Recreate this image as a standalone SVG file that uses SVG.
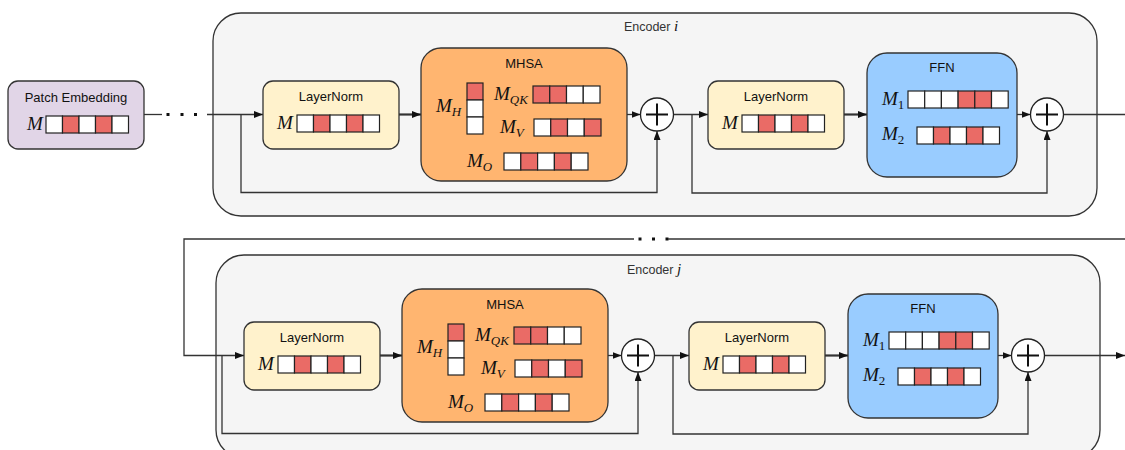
<svg xmlns="http://www.w3.org/2000/svg" width="1125" height="450" viewBox="0 0 1125 450">
<style>
.enc{fill:#F5F5F5;stroke:#333;stroke-width:1.3}
.box{stroke:#333;stroke-width:1.3}
.pe{fill:#E1D5E7}.ln{fill:#FFF2CC}.mh{fill:#FFB570}.ff{fill:#99CCFF}
.w{fill:#fff;stroke:#222;stroke-width:1.2}
.r{fill:#EA6B66;stroke:#222;stroke-width:1.2}
.t{font-family:"Liberation Sans",Arial,sans-serif;font-size:13px;fill:#111;text-anchor:middle}
.et{font-family:"Liberation Sans",Arial,sans-serif;font-size:12.5px;fill:#333;text-anchor:middle}
.m{font-family:"Liberation Serif","Times New Roman",serif;font-style:italic;font-size:19px;fill:#111}
.sub{font-size:13px}
.up{font-style:normal}
.c{fill:none;stroke:#333;stroke-width:1.3}
.th{stroke-width:2.2}
.sum{fill:#fff;stroke:#222;stroke-width:1.3}
.plus{stroke:#111;stroke-width:2;fill:none}
.dot{fill:#111}
</style>
<defs>
<marker id="ah" markerUnits="userSpaceOnUse" markerWidth="10" markerHeight="8" refX="9" refY="3.5" orient="auto">
<path d="M0,0 L9,3.5 L0,7 z" fill="#111"/>
</marker>
</defs>

<!-- Encoder containers -->
<g id="encoder-i">
<rect class="enc" x="213" y="13" width="884" height="203" rx="28"/>
<text class="et" x="651" y="31">Encoder <tspan class="m" style="font-size:15px">i</tspan></text>
</g>
<g id="encoder-j">
<rect class="enc" x="216" y="255" width="884" height="203" rx="28"/>
<text class="et" x="654" y="274">Encoder <tspan class="m" style="font-size:15px">j</tspan></text>
</g>

<!-- Connectors -->
<g id="connectors">
<path class="c" d="M144 114.5 H162"/>
<rect class="dot" x="166.5" y="113" width="3" height="3"/>
<rect class="dot" x="180.5" y="113" width="3" height="3"/>
<rect class="dot" x="194" y="113" width="3" height="3"/>
<path class="c" d="M207 114.5 H263" marker-end="url(#ah)"/>
<path class="c" d="M241 114.5 V192.5 H657 V131" marker-end="url(#ah)"/>
<path class="c th" d="M399 114.5 H421" marker-end="url(#ah)"/>
<path class="c" d="M627 114.5 H640.5" marker-end="url(#ah)"/>
<path class="c" d="M673.5 114.5 H708" marker-end="url(#ah)"/>
<path class="c" d="M692 114.5 V193 H1047 V131" marker-end="url(#ah)"/>
<path class="c th" d="M844 114.5 H867" marker-end="url(#ah)"/>
<path class="c" d="M1017 114.5 H1030.5" marker-end="url(#ah)"/>
<path class="c" d="M1063.5 114.5 H1125"/>

<path class="c" d="M634 239 H184 V355.5 H244" marker-end="url(#ah)"/>
<rect class="dot" x="638.5" y="237.5" width="3" height="3"/>
<rect class="dot" x="652" y="237.5" width="3" height="3"/>
<rect class="dot" x="665.5" y="237.5" width="3" height="3"/>
<path class="c" d="M668 239 H1125"/>

<path class="c" d="M222 355.5 V433.5 H638 V372" marker-end="url(#ah)"/>
<path class="c th" d="M380 355.5 H402" marker-end="url(#ah)"/>
<path class="c" d="M608 355.5 H621.5" marker-end="url(#ah)"/>
<path class="c" d="M654.5 355.5 H689" marker-end="url(#ah)"/>
<path class="c" d="M673 355.5 V434 H1028 V372" marker-end="url(#ah)"/>
<path class="c th" d="M825 355.5 H848" marker-end="url(#ah)"/>
<path class="c" d="M998 355.5 H1011.5" marker-end="url(#ah)"/>
<path class="c" d="M1044.5 355.5 H1125" marker-end="url(#ah)"/>
</g>

<!-- Patch Embedding -->
<g id="patch-embedding" transform="translate(8,81)">
<rect class="box pe" x="0" y="0" width="136" height="68" rx="10"/>
<text class="t" x="68" y="21">Patch Embedding</text>
<text class="m" x="19" y="49">M</text>
<rect class="w" x="38" y="35" width="16.5" height="17"/>
<rect class="r" x="54.5" y="35" width="16.5" height="17"/>
<rect class="w" x="71" y="35" width="16.5" height="17"/>
<rect class="r" x="87.5" y="35" width="16.5" height="17"/>
<rect class="w" x="104" y="35" width="16.5" height="17"/>
</g>

<!-- Encoder i nodes -->
<g id="i-layernorm1" transform="translate(263,81)">
<rect class="box ln" x="0" y="0" width="136" height="68" rx="10"/>
<text class="t" x="68" y="20">LayerNorm</text>
<text class="m" x="14" y="48">M</text>
<rect class="w" x="34" y="34" width="16.5" height="17"/>
<rect class="r" x="50.5" y="34" width="16.5" height="17"/>
<rect class="w" x="67" y="34" width="16.5" height="17"/>
<rect class="r" x="83.5" y="34" width="16.5" height="17"/>
<rect class="w" x="100" y="34" width="16.5" height="17"/>
</g>

<g id="i-mhsa" transform="translate(421,48)">
<rect class="box mh" x="0" y="0" width="206" height="133" rx="20"/>
<text class="t" x="103" y="20">MHSA</text>
<text class="m" x="15" y="64">M<tspan class="sub" dy="4">H</tspan></text>
<rect class="r" x="46" y="35" width="16" height="17"/>
<rect class="w" x="46" y="52" width="16" height="17"/>
<rect class="w" x="46" y="69" width="16" height="17"/>
<text class="m" x="73" y="52">M<tspan class="sub" dy="4">QK</tspan></text>
<rect class="r" x="112" y="38" width="16.75" height="17"/>
<rect class="r" x="128.75" y="38" width="16.75" height="17"/>
<rect class="w" x="145.5" y="38" width="16.75" height="17"/>
<rect class="w" x="162.25" y="38" width="16.75" height="17"/>
<text class="m" x="79" y="85">M<tspan class="sub" dy="4">V</tspan></text>
<rect class="w" x="113" y="71" width="16.75" height="17"/>
<rect class="r" x="129.75" y="71" width="16.75" height="17"/>
<rect class="w" x="146.5" y="71" width="16.75" height="17"/>
<rect class="r" x="163.25" y="71" width="16.75" height="17"/>
<text class="m" x="46" y="119">M<tspan class="sub" dy="4">O</tspan></text>
<rect class="w" x="83" y="105" width="16.8" height="17"/>
<rect class="r" x="99.8" y="105" width="16.8" height="17"/>
<rect class="w" x="116.6" y="105" width="16.8" height="17"/>
<rect class="r" x="133.4" y="105" width="16.8" height="17"/>
<rect class="w" x="150.2" y="105" width="16.8" height="17"/>
</g>

<g id="i-add1" transform="translate(657,114.5)">
<circle class="sum" r="16.5"/>
<path class="plus" d="M-11 0 H11 M0 -11 V11"/>
</g>

<g id="i-layernorm2" transform="translate(708,81)">
<rect class="box ln" x="0" y="0" width="136" height="68" rx="10"/>
<text class="t" x="68" y="20">LayerNorm</text>
<text class="m" x="14" y="48">M</text>
<rect class="w" x="34" y="34" width="16.5" height="17"/>
<rect class="r" x="50.5" y="34" width="16.5" height="17"/>
<rect class="w" x="67" y="34" width="16.5" height="17"/>
<rect class="r" x="83.5" y="34" width="16.5" height="17"/>
<rect class="w" x="100" y="34" width="16.5" height="17"/>
</g>

<g id="i-ffn" transform="translate(867,53)">
<rect class="box ff" x="0" y="0" width="150" height="124" rx="20"/>
<text class="t" x="75" y="19">FFN</text>
<text class="m" x="15" y="52">M<tspan class="sub up" dy="4">1</tspan></text>
<rect class="w" x="41" y="38" width="16.7" height="17"/>
<rect class="w" x="57.7" y="38" width="16.7" height="17"/>
<rect class="w" x="74.4" y="38" width="16.7" height="17"/>
<rect class="r" x="91.1" y="38" width="16.7" height="17"/>
<rect class="r" x="107.8" y="38" width="16.7" height="17"/>
<rect class="w" x="124.5" y="38" width="16.7" height="17"/>
<text class="m" x="15" y="87">M<tspan class="sub up" dy="4">2</tspan></text>
<rect class="w" x="50" y="74" width="16.5" height="17"/>
<rect class="r" x="66.5" y="74" width="16.5" height="17"/>
<rect class="w" x="83" y="74" width="16.5" height="17"/>
<rect class="r" x="99.5" y="74" width="16.5" height="17"/>
<rect class="w" x="116" y="74" width="16.5" height="17"/>
</g>

<g id="i-add2" transform="translate(1047,114.5)">
<circle class="sum" r="16.5"/>
<path class="plus" d="M-11 0 H11 M0 -11 V11"/>
</g>

<!-- Encoder j nodes -->
<g id="j-layernorm1" transform="translate(244,322)">
<rect class="box ln" x="0" y="0" width="136" height="68" rx="10"/>
<text class="t" x="68" y="20">LayerNorm</text>
<text class="m" x="14" y="48">M</text>
<rect class="w" x="34" y="34" width="16.5" height="17"/>
<rect class="r" x="50.5" y="34" width="16.5" height="17"/>
<rect class="w" x="67" y="34" width="16.5" height="17"/>
<rect class="r" x="83.5" y="34" width="16.5" height="17"/>
<rect class="w" x="100" y="34" width="16.5" height="17"/>
</g>

<g id="j-mhsa" transform="translate(402,289)">
<rect class="box mh" x="0" y="0" width="206" height="133" rx="20"/>
<text class="t" x="103" y="20">MHSA</text>
<text class="m" x="15" y="64">M<tspan class="sub" dy="4">H</tspan></text>
<rect class="r" x="46" y="35" width="16" height="17"/>
<rect class="w" x="46" y="52" width="16" height="17"/>
<rect class="w" x="46" y="69" width="16" height="17"/>
<text class="m" x="73" y="52">M<tspan class="sub" dy="4">QK</tspan></text>
<rect class="r" x="112" y="38" width="16.75" height="17"/>
<rect class="r" x="128.75" y="38" width="16.75" height="17"/>
<rect class="w" x="145.5" y="38" width="16.75" height="17"/>
<rect class="w" x="162.25" y="38" width="16.75" height="17"/>
<text class="m" x="79" y="85">M<tspan class="sub" dy="4">V</tspan></text>
<rect class="w" x="113" y="71" width="16.75" height="17"/>
<rect class="r" x="129.75" y="71" width="16.75" height="17"/>
<rect class="w" x="146.5" y="71" width="16.75" height="17"/>
<rect class="r" x="163.25" y="71" width="16.75" height="17"/>
<text class="m" x="46" y="119">M<tspan class="sub" dy="4">O</tspan></text>
<rect class="w" x="83" y="105" width="16.8" height="17"/>
<rect class="r" x="99.8" y="105" width="16.8" height="17"/>
<rect class="w" x="116.6" y="105" width="16.8" height="17"/>
<rect class="r" x="133.4" y="105" width="16.8" height="17"/>
<rect class="w" x="150.2" y="105" width="16.8" height="17"/>
</g>

<g id="j-add1" transform="translate(638,355.5)">
<circle class="sum" r="16.5"/>
<path class="plus" d="M-11 0 H11 M0 -11 V11"/>
</g>

<g id="j-layernorm2" transform="translate(689,322)">
<rect class="box ln" x="0" y="0" width="136" height="68" rx="10"/>
<text class="t" x="68" y="20">LayerNorm</text>
<text class="m" x="14" y="48">M</text>
<rect class="w" x="34" y="34" width="16.5" height="17"/>
<rect class="r" x="50.5" y="34" width="16.5" height="17"/>
<rect class="w" x="67" y="34" width="16.5" height="17"/>
<rect class="r" x="83.5" y="34" width="16.5" height="17"/>
<rect class="w" x="100" y="34" width="16.5" height="17"/>
</g>

<g id="j-ffn" transform="translate(848,294)">
<rect class="box ff" x="0" y="0" width="150" height="124" rx="20"/>
<text class="t" x="75" y="19">FFN</text>
<text class="m" x="15" y="52">M<tspan class="sub up" dy="4">1</tspan></text>
<rect class="w" x="41" y="38" width="16.7" height="17"/>
<rect class="w" x="57.7" y="38" width="16.7" height="17"/>
<rect class="w" x="74.4" y="38" width="16.7" height="17"/>
<rect class="r" x="91.1" y="38" width="16.7" height="17"/>
<rect class="r" x="107.8" y="38" width="16.7" height="17"/>
<rect class="w" x="124.5" y="38" width="16.7" height="17"/>
<text class="m" x="15" y="87">M<tspan class="sub up" dy="4">2</tspan></text>
<rect class="w" x="50" y="74" width="16.5" height="17"/>
<rect class="r" x="66.5" y="74" width="16.5" height="17"/>
<rect class="w" x="83" y="74" width="16.5" height="17"/>
<rect class="r" x="99.5" y="74" width="16.5" height="17"/>
<rect class="w" x="116" y="74" width="16.5" height="17"/>
</g>

<g id="j-add2" transform="translate(1028,355.5)">
<circle class="sum" r="16.5"/>
<path class="plus" d="M-11 0 H11 M0 -11 V11"/>
</g>
</svg>
